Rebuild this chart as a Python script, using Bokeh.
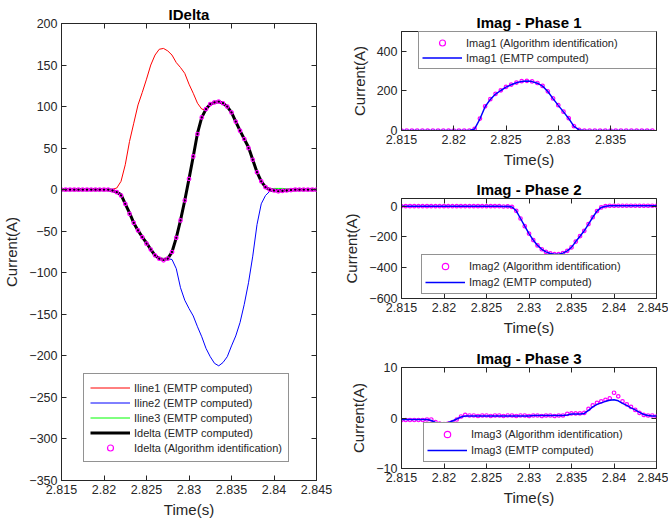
from bokeh.plotting import figure
from bokeh.models import Range1d, FixedTicker, LinearAxis, Legend, LegendItem, CustomJSTickFormatter
from bokeh.layouts import row, column
from bokeh.embed import file_html
from bokeh.resources import INLINE

# ---------------- data ----------------
time_s = [2.815, 2.8155, 2.816, 2.8165, 2.817, 2.8175, 2.818, 2.8185, 2.819, 2.8195,
          2.820, 2.8205, 2.821, 2.8215, 2.822, 2.8225, 2.823, 2.8235, 2.824, 2.8245,
          2.825, 2.8255, 2.826, 2.8265, 2.827, 2.8275, 2.828, 2.8285, 2.829, 2.8295,
          2.830, 2.8305, 2.831, 2.8315, 2.832, 2.8325, 2.833, 2.8335, 2.834, 2.8345,
          2.835, 2.8355, 2.836, 2.8365, 2.837, 2.8375, 2.838, 2.8385, 2.839, 2.8395,
          2.840, 2.8405, 2.841, 2.8415, 2.842, 2.8425, 2.843, 2.8435, 2.844, 2.8445,
          2.845]

iline1 = [0, 0, 0, 0, 0, 0, 0, 0, 0, 0,
          0, 0, 0.5, 2, 10, 30, 58, 80, 102, 117,
          133, 150, 162, 169, 170, 167, 162, 153, 147, 140,
          127, 116, 104, 97, 96, 103, 105, 106, 104, 100,
          93, 82, 71, 61, 51, 36, 21, 10, 3, 0,
          0, 0, 0, 0, 0, 0, 0, 0, 0, 0,
          0]
iline2 = [0, 0, 0, 0, 0, 0, 0, 0, 0, 0,
          0, 0, -1, -3, -6, -17, -28, -40, -49, -57,
          -64, -72, -79, -83, -84, -83, -84, -95, -118, -133,
          -143, -152, -165, -177, -191, -201, -209, -212, -208, -201,
          -188, -176, -160, -138, -112, -80, -42, -17, -7, -2,
          0, 0, 0, 0, 0, 0, 0, 0, 0, 0,
          0]
iline3 = [0, 0, 0, 0, 0, 0, 0, 0, 0, 0,
          0, 0, -1, -3, -6, -17, -28, -40, -49, -57,
          -64, -72, -79, -83, -84, -83, -75, -58, -37, -13,
          13, 40, 68, 87, 97, 103, 105, 106, 104, 100,
          93, 82, 71, 61, 51, 36, 21, 10, 3, 0.5,
          1.5, 1.5, 1.5, 1, 0.5, 0, 0, 0, 0, 0,
          0]
idelta_emtp = [0, 0, 0, 0, 0, 0, 0, 0, 0, 0,
               0, 0, -1, -3, -6, -17, -28, -40, -49, -57,
               -64, -72, -79, -83, -84, -83, -75, -58, -37, -13,
               13, 40, 68, 87, 97, 103, 105, 106, 104, 100,
               93, 82, 71, 61, 51, 36, 21, 10, 3, 0,
               -1, -1.5, -1, -1, -0.5, 0, 0, 0, 0, 0,
               0]
idelta_alg = [0, 0, 0, 0, 0, 0, 0, 0, 0, 0,
              0, 0, -1, -3, -7, -17, -29, -40, -49, -57,
              -65, -72, -79, -83, -85, -83, -75, -58, -37, -13,
              13, 40, 67, 87, 97, 103, 105, 106, 104, 100,
              93, 82, 71, 61, 50, 36, 21, 10, 3, 0,
              -1, -2, -1.5, -1, -0.5, 0, 0, 0, 0, 0,
              0]

imag1_alg = [0, 0, 0, 0, 0, 0, 0, 0, 0, 0,
             0, 0, 0, 0, 8, 60, 122, 158, 185, 203,
             220, 232, 242, 249, 251, 248, 240, 225, 198, 162,
             128, 95, 62, 22, 3, 0, 0, 0, 0, 0,
             0, 0, 0, 0, 0, 0, 0, 0, 0]
imag1_emtp = [0, 0, 0, 0, 0, 0, 0, 0, 0, 0,
              0, 0, 0, 0, 8, 58, 120, 157, 184, 202,
              219, 231, 241, 248, 250, 247, 239, 224, 197, 161,
              127, 94, 61, 21, 3, 0, 0, 0, 0, 0,
              0, 0, 0, 0, 0, 0, 0, 0, 0]

imag2_alg = [0, 0, 0, 0, 0, 0, 0, 0, 0, 0,
             0, 0, 0, 0, 0, 0, 0, 0, 0, 0,
             0, 0, 0, 0, -2, -1, -5, -30, -80, -130,
             -178, -220, -255, -280, -297, -307, -312, -312, -305, -290,
             -268, -230, -195, -160, -116, -72, -32, -8, 0, 3,
             3, 3, 3, 3, 3, 3, 3, 3, 3, 3,
             3]
imag2_emtp = [0, 0, 0, 0, 0, 0, 0, 0, 0, 0,
              0, 0, 0, 0, 0, 0, 0, 0, 0, 0,
              0, 0, 0, 0, -2, -1, -5, -30, -80, -130,
              -178, -220, -255, -280, -297, -307, -312, -312, -305, -290,
              -268, -230, -195, -160, -116, -72, -32, -8, 0, 3,
              3, 3, 3, 3, 3, 3, 3, 3, 3, 3,
              3]

imag3_alg = [-0.4, -0.4, -0.4, -0.4, -0.4, -0.4, -0.3, -0.3, -0.8, -1.1,
             -1.2, -1.1, -0.8, -0.3, 0.3, 0.6, 0.5, 0.5, 0.4, 0.5,
             0.5, 0.4, 0.5, 0.5, 0.4, 0.5, 0.5, 0.4, 0.5, 0.5,
             0.4, 0.5, 0.5, 0.4, 0.5, 0.5, 0.4, 0.5, 0.5, 0.8,
             0.9, 0.9, 0.9, 1.0, 1.8, 2.5, 3.0, 3.3, 3.6, 3.9,
             5.0, 4.3, 3.3, 2.7, 2.2, 1.6, 1.0, 0.6, 0.5, 0.5,
             0.3]
imag3_emtp = [-0.3, -0.3, -0.3, -0.3, -0.3, -0.3, -0.3, -0.5, -0.9, -1.0,
              -1.0, -0.9, -0.6, -0.2, 0.2, 0.4, 0.4, 0.4, 0.4, 0.4,
              0.4, 0.4, 0.4, 0.4, 0.4, 0.4, 0.4, 0.4, 0.4, 0.4,
              0.4, 0.5, 0.5, 0.5, 0.5, 0.5, 0.5, 0.5, 0.5, 0.6,
              0.8, 0.8, 0.8, 0.9, 1.5, 2.2, 2.7, 3.0, 3.3, 3.5,
              3.6, 3.4, 2.9, 2.5, 2.0, 1.6, 1.1, 0.7, 0.5, 0.4,
              0.4]

x_ticks_full = [2.815, 2.82, 2.825, 2.83, 2.835, 2.84, 2.845]
x_ticks_p1 = [2.815, 2.82, 2.825, 2.83, 2.835]
y_ticks_left = [-350, -300, -250, -200, -150, -100, -50, 0, 50, 100, 150, 200]
y_ticks_p1 = [0, 200, 400]
y_ticks_p2 = [-600, -400, -200, 0]
y_ticks_p3 = [-10, 0, 10]

# ---------------- styling ----------------
FONT = "Liberation Sans"
TXT = "#262626"
MAG = "#FF00FF"
MSIZE = 3.5


def make_fig(title, w, h, xr, yr, xticks, yticks, mbl, mbr, mbt, mbb):
    p = figure(width=w, height=h, x_range=Range1d(*xr), y_range=Range1d(*yr),
               output_backend="svg", toolbar_location=None, title=title,
               min_border_left=mbl, min_border_right=mbr,
               min_border_top=mbt, min_border_bottom=mbb)
    p.title.align = "center"
    p.title.text_font = FONT
    p.title.text_font_size = "15px"
    p.title.text_font_style = "bold"
    p.title.text_color = "#000000"
    p.title.standoff = 2
    p.outline_line_color = TXT
    p.outline_line_alpha = 1
    p.grid.visible = False
    fmt = CustomJSTickFormatter(code="return parseFloat(tick.toFixed(4)).toString();")
    for ax in p.xaxis:
        ax.ticker = FixedTicker(ticks=xticks, minor_ticks=[])
        ax.formatter = fmt
        ax.axis_label = "Time(s)"
        ax.axis_label_standoff = 4
    for ax in p.yaxis:
        ax.ticker = FixedTicker(ticks=yticks, minor_ticks=[])
        ax.axis_label = "Current(A)"
        ax.axis_label_standoff = 6
    for ax in list(p.xaxis) + list(p.yaxis):
        ax.axis_line_color = TXT
        ax.major_tick_line_color = TXT
        ax.major_tick_in = 5
        ax.major_tick_out = 0
        ax.major_label_text_font = FONT
        ax.major_label_text_font_size = "12.5px"
        ax.major_label_text_color = TXT
        ax.major_label_standoff = 4
        ax.axis_label_text_font = FONT
        ax.axis_label_text_font_size = "15px"
        ax.axis_label_text_font_style = "normal"
        ax.axis_label_text_color = TXT
    for place, ticks in (("above", xticks), ("right", yticks)):
        ax = LinearAxis(ticker=FixedTicker(ticks=ticks, minor_ticks=[]),
                        major_label_text_font_size="0px", major_label_text_alpha=0,
                        major_label_standoff=0, major_tick_in=5, major_tick_out=0,
                        major_tick_line_color=TXT, axis_line_color=None)
        p.add_layout(ax, place)
    return p


def make_legend(items, loc, lh, pad, label_width=20):
    lg = Legend(items=items, location=loc, label_text_font=FONT,
                label_text_font_size="11px", label_text_color=TXT,
                glyph_width=40, glyph_height=lh, label_height=lh,
                padding=pad, spacing=0, label_standoff=4, margin=0,
                border_line_color=TXT, border_line_width=1,
                background_fill_color="white", background_fill_alpha=1,
                label_width=label_width)
    return lg


# ---------------- left panel ----------------
left = make_fig("IDelta", 340, 520, (2.815, 2.845), (-350, 200),
                x_ticks_full, y_ticks_left, 57, 24, 23, 40)
r_l1 = left.line(time_s, iline1, line_color="#FF0000", line_width=1)
r_l2 = left.line(time_s, iline2, line_color="#0000FF", line_width=1)
r_l3 = left.line(time_s, iline3, line_color="#00FF00", line_width=1)
r_ld = left.line(time_s, idelta_emtp, line_color="black", line_width=3)
r_la = left.scatter(time_s, idelta_alg, marker="circle", size=MSIZE, fill_color=None,
                    line_color=MAG, line_width=1.2)
left.add_layout(make_legend([
    LegendItem(label="Iline1 (EMTP computed)", renderers=[r_l1]),
    LegendItem(label="Iline2 (EMTP computed)", renderers=[r_l2]),
    LegendItem(label="Iline3 (EMTP computed)", renderers=[r_l3]),
    LegendItem(label="Idelta (EMTP computed)", renderers=[r_ld]),
    LegendItem(label="Idelta (Algorithm identification)", renderers=[r_la]),
], (22, 18), 15, 6))

# ---------------- right panels ----------------
n1 = len(imag1_alg)
p1 = make_fig("Imag - Phase 1", 328, 176, (2.815, 2.8394), (0, 500),
              x_ticks_p1, y_ticks_p1, 57, 12, 31, 46)
a1 = p1.scatter(time_s[:n1], imag1_alg, marker="circle", size=MSIZE, fill_color=None,
                line_color=MAG, line_width=1.2)
e1 = p1.line(time_s[:n1], imag1_emtp, line_color="#0000FF", line_width=1.5)
p1.add_layout(make_legend([
    LegendItem(label="Imag1 (Algorithm identification)", renderers=[a1]),
    LegendItem(label="Imag1 (EMTP computed)", renderers=[e1]),
], (17, 61), 15, 3, 190))

p2 = make_fig("Imag - Phase 2", 328, 169, (2.815, 2.845), (-600, 50),
              x_ticks_full, y_ticks_p2, 57, 12, 22, 47)
a2 = p2.scatter(time_s, imag2_alg, marker="circle", size=MSIZE, fill_color=None,
                line_color=MAG, line_width=1.2)
e2 = p2.line(time_s, imag2_emtp, line_color="#0000FF", line_width=1.5)
p2.add_layout(make_legend([
    LegendItem(label="Imag2 (Algorithm identification)", renderers=[a2]),
    LegendItem(label="Imag2 (EMTP computed)", renderers=[e2]),
], (20, 4), 16, 3, 190))

p3 = make_fig("Imag - Phase 3", 328, 175, (2.815, 2.845), (-10, 10),
              x_ticks_full, y_ticks_p3, 57, 12, 22, 52)
a3 = p3.scatter(time_s, imag3_alg, marker="circle", size=MSIZE, fill_color=None,
                line_color=MAG, line_width=1.2)
e3 = p3.line(time_s, imag3_emtp, line_color="#0000FF", line_width=1.5)
p3.add_layout(make_legend([
    LegendItem(label="Imag3 (Algorithm identification)", renderers=[a3]),
    LegendItem(label="Imag3 (EMTP computed)", renderers=[e3]),
], (22, 6), 16, 3, 190))

layout = row(left, column(p1, p2, p3))
open("out.html", "w").write(file_html(layout, INLINE))
